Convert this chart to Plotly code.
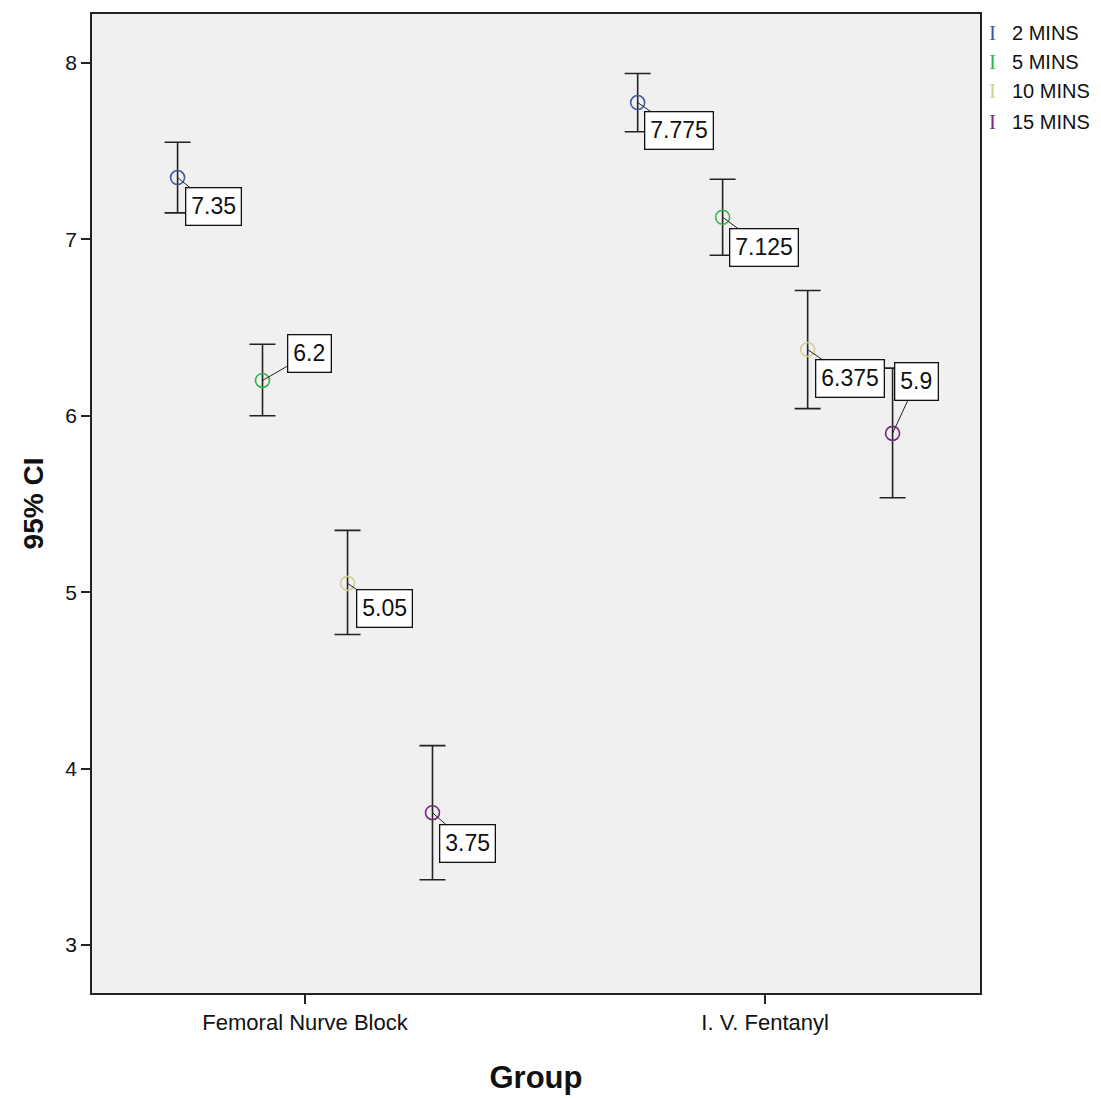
import plotly.graph_objects as go

groups = ["Femoral Nurve Block", "I. V. Fentanyl"]
series = ["2 MINS", "5 MINS", "10 MINS", "15 MINS"]
colors = ["#3E58AC", "#2EB848", "#D3CE97", "#7C287D"]
means = {
    "2 MINS": [7.35, 7.775],
    "5 MINS": [6.2, 7.125],
    "10 MINS": [5.05, 6.375],
    "15 MINS": [3.75, 5.9],
}
lower = {
    "2 MINS": [7.15, 7.61],
    "5 MINS": [6.0, 6.91],
    "10 MINS": [4.76, 6.04],
    "15 MINS": [3.37, 5.535],
}
upper = {
    "2 MINS": [7.55, 7.94],
    "5 MINS": [6.405, 7.34],
    "10 MINS": [5.35, 6.71],
    "15 MINS": [4.13, 6.27],
}
label_text = {
    "2 MINS": ["7.35", "7.775"],
    "5 MINS": ["6.2", "7.125"],
    "10 MINS": ["5.05", "6.375"],
    "15 MINS": ["3.75", "5.9"],
}
# label box offsets (pixels) relative to the point
label_off = {
    "2 MINS": [(36, 29), (41, 28)],
    "5 MINS": [(47, -27), (41, 30)],
    "10 MINS": [(37, 25), (42, 29)],
    "15 MINS": [(35, 31), (24, -52)],
}
offsets = [-0.277, -0.0924, 0.0924, 0.277]

FONT = "Liberation Sans, Arial, sans-serif"

fig = go.Figure()
annotations = []
for i, s in enumerate(series):
    xs = [g + offsets[i] for g in range(len(groups))]
    ys = means[s]
    plus = [u - m for u, m in zip(upper[s], ys)]
    minus = [m - l for m, l in zip(ys, lower[s])]
    fig.add_trace(go.Scatter(
        x=xs, y=ys, mode="markers", name=s, showlegend=False,
        marker=dict(symbol="circle-open", size=14, color=colors[i], line=dict(width=1.6, color=colors[i])),
        error_y=dict(type="data", symmetric=False, array=plus, arrayminus=minus,
                     color="#222222", thickness=1.6, width=13),
    ))
    for j in range(len(groups)):
        ax, ay = label_off[s][j]
        annotations.append(dict(
            x=xs[j], y=ys[j], xref="x", yref="y", text=label_text[s][j],
            showarrow=True, arrowhead=0, arrowwidth=1, arrowcolor="#222222",
            ax=ax, ay=ay, standoff=0,
            bgcolor="white", bordercolor="#111111", borderwidth=1.3, borderpad=5,
            font=dict(family=FONT, size=23, color="#111111"),
        ))

# manual legend
leg_y = [0.9806, 0.951, 0.9215, 0.890]
for i, s in enumerate(series):
    annotations.append(dict(
        x=1.0146, y=leg_y[i], xref="paper", yref="paper", text="I", showarrow=False,
        xanchor="center", yanchor="middle",
        font=dict(family="Liberation Serif, DejaVu Serif, serif", size=21, color=colors[i]),
    ))
    annotations.append(dict(
        x=1.0338, y=leg_y[i], xref="paper", yref="paper", text=s, showarrow=False,
        xanchor="left", yanchor="middle",
        font=dict(family=FONT, size=20, color="#111111"),
    ))

fig.update_layout(
    width=1093, height=1090,
    margin=dict(l=84, r=121, t=4, b=105),
    paper_bgcolor="white", plot_bgcolor="#F0F0F0",
    annotations=annotations,
    showlegend=False,
    font=dict(family=FONT, color="#111111"),
)
fig.update_xaxes(
    range=[-0.463, 1.467], tickvals=[0, 1], ticktext=groups,
    ticks="outside", ticklen=9, tickcolor="#222222", tickwidth=1.5,
    showgrid=False, zeroline=False,
    showline=True, linecolor="#222222", linewidth=1.5, mirror=True,
    tickfont=dict(family=FONT, size=22, color="#111111"),
    title=dict(text="<b>Group</b>", font=dict(family=FONT, size=31, color="#111111"), standoff=32),
)
fig.update_yaxes(
    range=[2.728, 8.277], tickvals=[3, 4, 5, 6, 7, 8],
    ticks="outside", ticklen=9, tickcolor="#222222", tickwidth=1.5,
    showgrid=False, zeroline=False,
    showline=True, linecolor="#222222", linewidth=1.5, mirror=True,
    tickfont=dict(family=FONT, size=21, color="#111111"),
    title=dict(text="<b>95% CI</b>", font=dict(family=FONT, size=28, color="#111111"), standoff=14),
)

fig.write_html("out.html")
